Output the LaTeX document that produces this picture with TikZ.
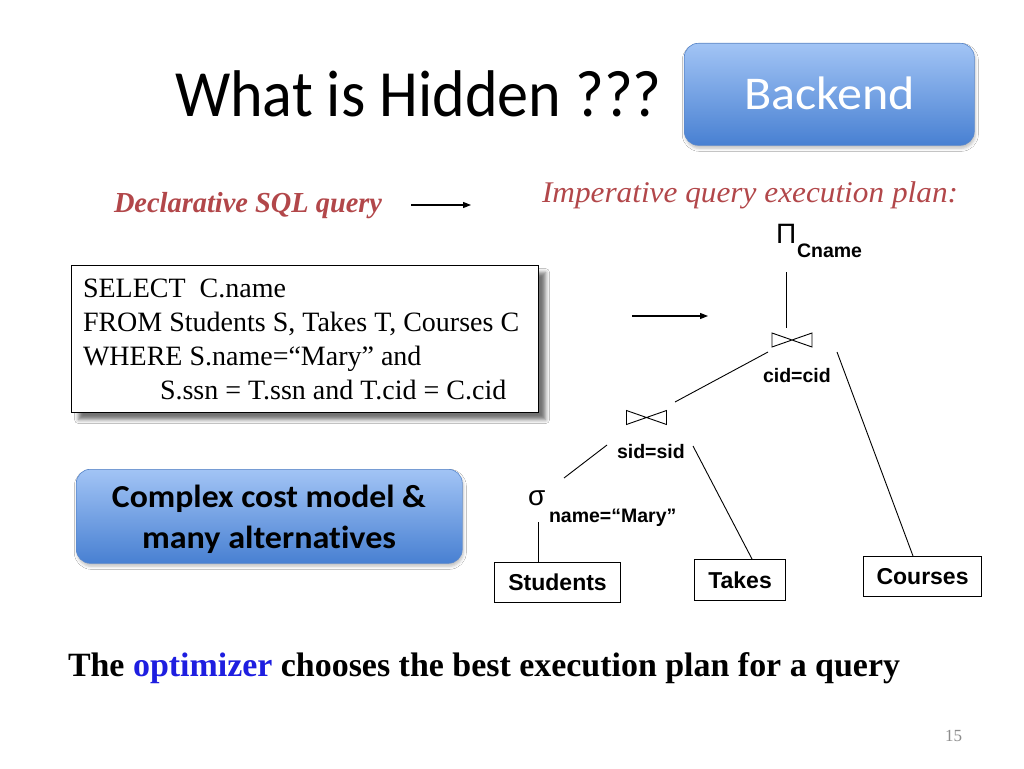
\documentclass[tikz,border=0pt]{standalone}
\usepackage{fontspec}
\setmainfont{Liberation Serif}
\newfontfamily\calibri[Ligatures=NoCommon]{Carlito}
\newfontfamily\arialf{Liberation Sans}
\usetikzlibrary{arrows.meta,shadows.blur}
\definecolor{plumred}{HTML}{B2474A}
\definecolor{optblue}{HTML}{1E1EE0}
\definecolor{btop}{HTML}{A2C4F5}
\definecolor{bbot}{HTML}{4880D2}
\definecolor{bborder}{HTML}{5A88CC}
\definecolor{pagegray}{HTML}{8C8C8C}
\tikzset{
  jointie/.pic={\draw[line width=0.9pt] (-20,-7) -- (20,7) -- (20,-7) -- (-20,7) -- cycle;}
}
\begin{document}
\begin{tikzpicture}[x=1pt,y=-1pt,
  txt/.style={inner sep=0pt, outer sep=0pt, anchor=base west},
  sqltxt/.style={txt, font=\fontsize{28}{32}\selectfont},
  treelab/.style={txt, font=\arialf\bfseries\fontsize{19.5}{22}\selectfont},
  relbox/.style={draw, line width=1.1pt, inner sep=0pt, anchor=north west,
    font=\arialf\bfseries\fontsize{23}{26}\selectfont},
  treeline/.style={line width=0.9pt},
  arr/.style={line width=1.1pt, -{Triangle[length=8pt,width=6pt]}},
  bluebox/.style={rounded corners=14pt, top color=btop, bottom color=bbot,
    draw=bborder, line width=0.6pt, anchor=north west, inner sep=0pt,
    blur shadow={shadow xshift=1pt, shadow yshift=-3pt, shadow blur radius=3pt, shadow opacity=25}},
  sqlbox/.style={draw, line width=1.1pt, fill=white, anchor=north west, inner sep=0pt,
    blur shadow={shadow xshift=7pt, shadow yshift=-7pt, shadow blur radius=4pt, shadow opacity=55}}
]
\fill[white] (0,0) rectangle (1024,768);
\useasboundingbox (0,0) rectangle (1024,768);

% title
\node[txt] (title) at (175,116) {\resizebox{487pt}{\height}{\calibri\fontsize{66}{70}\selectfont What is Hidden ???}};

% backend box
\node[bluebox, minimum width=290pt, minimum height=102pt] (backend) at (684,43) {};
\node[txt, text=white] (backendtxt) at (744,110) {\resizebox{171pt}{\height}{\calibri\fontsize{47}{50}\selectfont Backend}};

% headings
\node[txt, text=plumred] (decl) at (114,212) {\resizebox{268pt}{\height}{\bfseries\itshape\fontsize{29}{32}\selectfont Declarative SQL query}};
\node[txt, text=plumred] (imper) at (542,202) {\resizebox{416pt}{\height}{\itshape\fontsize{30}{33}\selectfont Imperative query execution plan:}};
\coordinate (da1) at (411,205);
\coordinate (da2) at (471,205);
\draw[arr] (da1) -- (da2);

% SQL box
\node[sqlbox, minimum width=467pt, minimum height=147pt] (sql) at (71,265) {};
\node[sqltxt] (l1) at (83,297) {SELECT\ \ C.name};
\node[sqltxt] (l2) at (83,331) {FROM Students S, Takes T, Courses C};
\node[sqltxt] (l3) at (83,365) {WHERE S.name=“Mary” and};
\node[sqltxt] (l4) at (160,399) {S.ssn = T.ssn and T.cid = C.cid};

\coordinate (ma1) at (632,316);
\coordinate (ma2) at (708,316);
\draw[arr] (ma1) -- (ma2);

% complex box
\node[bluebox, minimum width=386pt, minimum height=94pt] (complex) at (76,469) {};
\node[inner sep=0pt, anchor=base] (c1) at (269,507) {\resizebox{314pt}{\height}{\calibri\bfseries\fontsize{32}{35}\selectfont Complex cost model \&}};
\node[inner sep=0pt, anchor=base] (c2) at (269,548) {\resizebox{254pt}{\height}{\calibri\bfseries\fontsize{32}{35}\selectfont many alternatives}};

% plan tree
\node[txt, font=\arialf\fontsize{28}{30}\selectfont] (pi) at (776,243) {Π};
\node[treelab] (cname) at (797,257) {Cname};
\pic (j1) at (792,340) {jointie};
\coordinate (j1c) at (792,340);
\node[treelab] (cid) at (763,382) {cid=cid};
\pic (j2) at (646.5,417.5) {jointie};
\coordinate (j2c) at (646.5,417.5);
\node[treelab] (sid) at (617,458) {sid=sid};
\node[txt, font=\arialf\fontsize{28}{30}\selectfont] (sigma) at (528,505) {σ};
\node[treelab] (mary) at (549,522) {name=“Mary”};

\node[relbox, minimum width=126pt, minimum height=40pt] (students) at (494,562) {Students};
\node[relbox, minimum width=91pt, minimum height=41pt] (takes) at (694,559) {Takes};
\node[relbox, minimum width=118pt, minimum height=40pt] (courses) at (863,556) {Courses};

\coordinate (pib) at (786,272);
\coordinate (j1t) at (786,328);
\coordinate (j1l) at (768,352);
\coordinate (j1r) at (837,352);
\coordinate (j2t) at (675,402);
\coordinate (j2l) at (607,445);
\coordinate (j2r) at (693,446);
\coordinate (sigt) at (564,478);
\coordinate (sigb) at (538,522);
\draw[treeline] (pib) -- (j1t);
\draw[treeline] (j1l) -- (j2t);
\draw[treeline] (j1r) -- (courses.north -| 913,0);
\draw[treeline] (j2l) -- (sigt);
\draw[treeline] (j2r) -- (takes.north -| 752,0);
\draw[treeline] (sigb) -- (students.north -| sigb);

% conclusion
\node[txt] (concl) at (68,676) {\resizebox{832pt}{\height}{\bfseries\fontsize{34}{38}\selectfont The \textcolor{optblue}{optimizer} chooses the best execution plan for a query}};
\node[txt, text=pagegray, font=\fontsize{17}{20}\selectfont] (pnum) at (945,741) {15};
\end{tikzpicture}
\end{document}
